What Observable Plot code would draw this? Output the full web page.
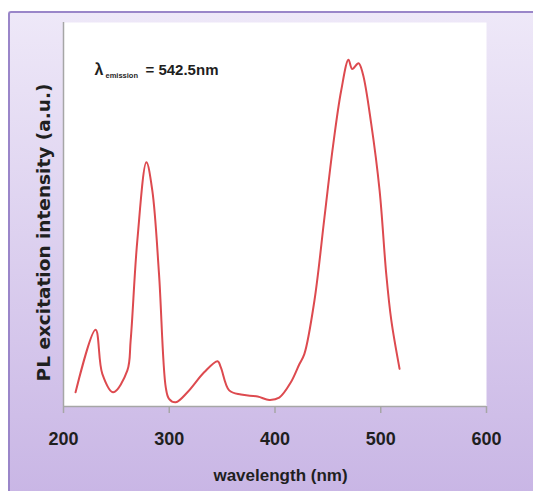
<!DOCTYPE html>
<html>
<head>
<meta charset="utf-8">
<script src="https://cdn.jsdelivr.net/npm/d3@7"></script>
<script src="https://cdn.jsdelivr.net/npm/@observablehq/plot@0.6"></script>
<style>
html,body{margin:0;padding:0;background:#fff;}
#wrap{position:relative;width:533px;height:491px;overflow:hidden;}
#bg{position:absolute;left:8px;top:11px;width:560px;height:520px;border-top:2px solid #9a86c9;border-left:2px solid #9a86c9;border-top-left-radius:3px;background:linear-gradient(#eee8f8,#c9b6e5 480px);}
#chart{position:absolute;left:0;top:0;}
</style>
</head>
<body>
<div id="wrap"><div id="bg"></div><div id="chart"></div></div>
<script>
// wavelength (nm)
const wavelength = [211.4, 230.3, 236.7, 247, 260.4, 263.5, 269.8, 278.4, 284, 290.3, 296.7, 299.8, 306.2, 317.2, 333, 345.7, 348.8, 356.7, 367.8, 383.6, 394.6, 404, 415, 423, 427.8, 437.3, 446.8, 454.7, 462.6, 469.5, 473, 479, 483.1, 491, 498.9, 505.2, 510, 517.8];
// PL excitation intensity (a.u.)
const intensity = [3.7, 20.0, 8.5, 3.7, 9.4, 17.2, 43.2, 63.6, 56.2, 34.6, 5.0, 2.0, 1.1, 3.7, 8.9, 11.8, 10.2, 4.2, 3.1, 2.6, 1.7, 2.3, 6.3, 11.0, 13.7, 27.6, 49.3, 67.5, 82.3, 90.3, 87.9, 89.4, 86.6, 73.6, 56.3, 34.5, 22.4, 9.8];
const xTicks = [200, 300, 400, 500, 600];
const xLabel = "wavelength (nm)";
const yLabel = "PL excitation intensity (a.u.)";
const annLambda = "λ";
const annSub = "emission";
const annValue = "= 542.5nm";

const data = wavelength.map((w, i) => ({w, v: intensity[i]}));
const sans = "'Liberation Sans', Arial, sans-serif";

const chart = Plot.plot({
  width: 533,
  height: 491,
  marginLeft: 63,
  marginRight: 47,
  marginTop: 22,
  marginBottom: 85,
  style: {background: "transparent", overflow: "visible"},
  x: {domain: [200, 600]},
  y: {domain: [0, 100], axis: null},
  marks: [
    Plot.frame({fill: "white", stroke: "none"}),
    Plot.ruleX([xTicks[0]], {stroke: "#a6a6a6", strokeWidth: 1.5}),
    Plot.ruleY([0], {stroke: "#a6a6a6", strokeWidth: 1.5}),
    Plot.axisX(xTicks, {tickSize: 7, tickPadding: 18.5, stroke: "#a6a6a6", strokeWidth: 1.5, fill: "#1f1f1f",
      fontSize: 18, fontFamily: sans, fontWeight: "bold", label: null, tickFormat: d => String(d)}),
    Plot.line(data, {x: "w", y: "v", curve: "catmull-rom", stroke: "#dd4a4f", strokeWidth: 2}),
    Plot.text([xLabel], {text: d => d, frameAnchor: "bottom", dx: 5.5, dy: 74.6, fontSize: 17,
      fontFamily: sans, fontWeight: "bold", fill: "#1f1f1f"}),
    Plot.text([yLabel], {text: d => d, frameAnchor: "left", textAnchor: "middle", rotate: -90, dx: -19, dy: 18, fontSize: 18.5,
      fontFamily: "'DejaVu Sans', sans-serif", fontWeight: "bold", fill: "#1f1f1f"}),
    Plot.text([annLambda], {text: d => d, frameAnchor: "top-left", textAnchor: "start", lineAnchor: "bottom",
      dx: 31, dy: 52.3, fontSize: 16, fontFamily: sans, fontWeight: "bold", fill: "#1f1f1f"}),
    Plot.text([annSub], {text: d => d, frameAnchor: "top-left", textAnchor: "start", lineAnchor: "bottom",
      dx: 42, dy: 55, fontSize: 7.5, fontFamily: sans, fontWeight: "bold", fill: "#1f1f1f"}),
    Plot.text([annValue], {text: d => d, frameAnchor: "top-left", textAnchor: "start", lineAnchor: "bottom",
      dx: 82, dy: 52.3, fontSize: 15, fontFamily: sans, fontWeight: "bold", fill: "#1f1f1f"})
  ]
});
document.getElementById("chart").appendChild(chart);
</script>
</body>
</html>
